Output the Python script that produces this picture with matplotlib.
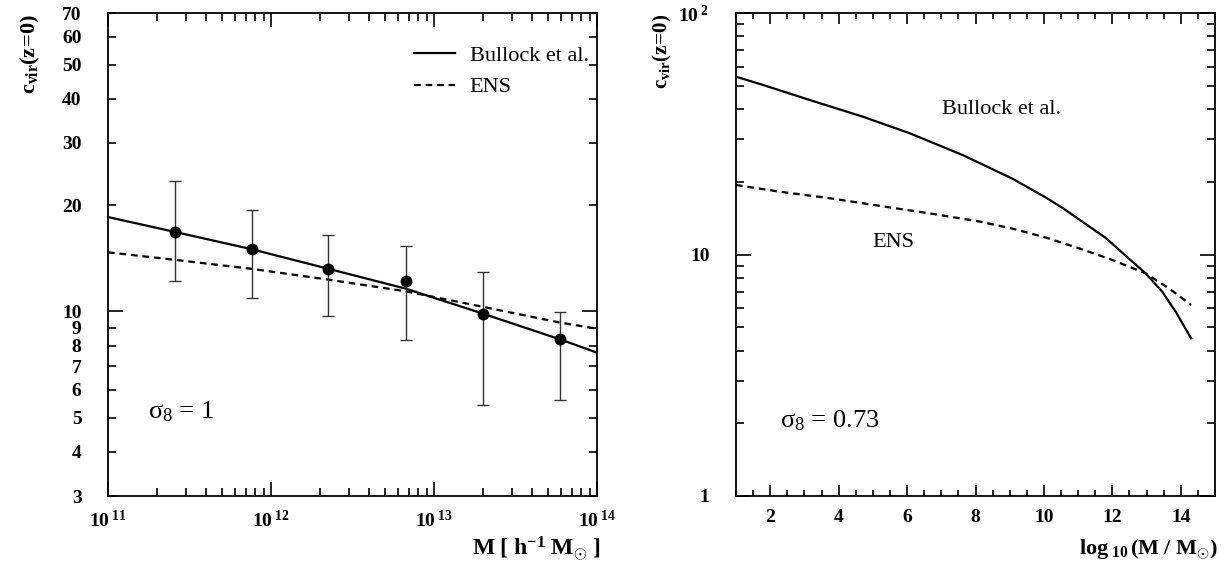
import numpy as np
import matplotlib
matplotlib.use("Agg")
import matplotlib.pyplot as plt
from matplotlib.ticker import FixedLocator, FixedFormatter, NullFormatter, MultipleLocator

plt.rcParams['font.family'] = ['Liberation Serif', 'DejaVu Serif']
plt.rcParams['mathtext.fontset'] = 'custom'
plt.rcParams['mathtext.rm'] = 'Liberation Serif'
plt.rcParams['mathtext.it'] = 'Liberation Serif:italic'
plt.rcParams['mathtext.bf'] = 'Liberation Serif:bold'

# ---- Left panel data (sigma_8 = 1) ----
mass_pts = [2.56e11, 7.6e11, 2.25e12, 6.7e12, 2.0e13, 5.9e13]
c_pts = [16.8, 15.0, 13.2, 12.2, 9.85, 8.34]
c_err_hi = [23.4, 19.4, 16.5, 15.3, 12.97, 9.98]
c_err_lo = [12.2, 10.9, 9.71, 8.28, 5.43, 5.61]

mass_curve = [1e11, 2.56e11, 7.6e11, 2.25e12, 6.7e12, 2.0e13, 5.9e13, 1e14]
bullock_left = [18.5, 16.8, 15.0, 13.2, 11.6, 9.85, 8.34, 7.64]
ens_left = [14.7, 14.0, 13.2, 12.3, 11.4, 10.3, 9.3, 8.93]

# ---- Right panel data (sigma_8 = 0.73) ----
logm_b = [1.0, 1.80, 3.16, 4.71, 6.07, 7.63, 9.08, 10.06, 10.54, 11.81, 12.49,
          12.97, 13.46, 13.75, 13.85, 14.30]
bullock_right = [54.5, 50.3, 43.6, 37.2, 31.8, 25.8, 20.6, 17.2, 15.6, 11.7, 9.6,
                 8.36, 7.01, 6.08, 5.80, 4.50]
logm_e = [1.0, 2.28, 3.74, 5.20, 6.66, 8.11, 9.08, 10.06, 11.03, 12.0, 12.97, 13.65, 14.30]
ens_right = [19.4, 18.2, 17.1, 15.9, 14.8, 13.7, 12.8, 11.75, 10.6, 9.49, 8.36, 7.25, 6.18]

W, H = 1226, 564
fig = plt.figure(figsize=(W / 100, H / 100), dpi=100)

axL = fig.add_axes([108 / W, 1 - 496 / H, 489 / W, 483 / H])
axR = fig.add_axes([736 / W, 1 - 496 / H, 479 / W, 483 / H])

TFS = 14

# ================= Left panel =================
axL.set_xscale('log')
axL.set_yscale('log')
axL.set_xlim(1e11, 1e14)
axL.set_ylim(3, 70)

axL.plot(mass_curve, bullock_left, '-', color='black', lw=1.6, label='Bullock et al.')
axL.plot(mass_curve, ens_left, '--', color='black', lw=1.6, dashes=(3, 2.2), label='ENS')
yerr = [np.array(c_pts) - np.array(c_err_lo), np.array(c_err_hi) - np.array(c_pts)]
axL.errorbar(mass_pts, c_pts, yerr=yerr, fmt='o', color='black', ms=7.5,
             ecolor='#333333', elinewidth=1.0, capsize=4, capthick=1.0)

axL.yaxis.set_major_locator(FixedLocator([10]))
axL.yaxis.set_major_formatter(FixedFormatter(['10']))
ymin = [3, 4, 5, 6, 7, 8, 9, 20, 30, 40, 50, 60, 70]
axL.yaxis.set_minor_locator(FixedLocator(ymin))
axL.yaxis.set_minor_formatter(FixedFormatter([str(v) for v in ymin]))
axL.xaxis.set_major_locator(FixedLocator([1e11, 1e12, 1e13, 1e14]))
axL.xaxis.set_major_formatter(FixedFormatter([r'$\mathbf{10^{\ 11}}$', r'$\mathbf{10^{\ 12}}$',
                                              r'$\mathbf{10^{\ 13}}$', r'$\mathbf{10^{\ 14}}$']))
xminL = [m * 10.0 ** e for e in (11, 12, 13) for m in range(2, 10)]
axL.xaxis.set_minor_locator(FixedLocator(xminL))
axL.xaxis.set_minor_formatter(NullFormatter())

axL.tick_params(axis='both', which='both', direction='in', top=True, right=True, width=1.2)
axL.tick_params(axis='y', which='major', length=11, pad=19)
axL.tick_params(axis='y', which='minor', length=5.5, pad=19)
axL.tick_params(axis='x', which='major', length=10, pad=10)
axL.tick_params(axis='x', which='minor', length=5.5)
for lab in axL.get_xticklabels() + axL.get_yticklabels(which='both'):
    lab.set_fontsize(TFS)
    lab.set_fontweight('bold')

axL.legend(loc='upper left', bbox_to_anchor=(0.585, 0.975), frameon=False, fontsize=16,
           handlelength=1.85, handletextpad=0.65, labelspacing=0.5)
axL.text(1.76e11, 5.19, 'σ$_8$ = 1', fontsize=19, ha='left', va='center')

# ================= Right panel =================
axR.set_yscale('log')
axR.set_xlim(1, 15)
axR.set_ylim(1, 100)
axR.plot(logm_b, bullock_right, '-', color='black', lw=1.6)
axR.plot(logm_e, ens_right, '--', color='black', lw=1.6, dashes=(3, 2.2))

axR.yaxis.set_major_locator(FixedLocator([1, 10, 100]))
axR.yaxis.set_major_formatter(FixedFormatter(['1', '10', r'$\mathbf{10^{\ 2}}$']))
yminR = [m * 10.0 ** e for e in (0, 1) for m in range(2, 10)]
axR.yaxis.set_minor_locator(FixedLocator(yminR))
axR.yaxis.set_minor_formatter(NullFormatter())
axR.xaxis.set_major_locator(MultipleLocator(2))
axR.xaxis.set_minor_locator(MultipleLocator(0.5))

axR.tick_params(axis='both', which='both', direction='in', top=True, right=True, width=1.2)
axR.tick_params(axis='y', which='major', length=11, pad=19)
axR.tick_params(axis='y', which='minor', length=5.5)
axR.tick_params(axis='x', which='major', length=8, pad=9)
axR.tick_params(axis='x', which='minor', length=4.5)
for lab in axR.get_xticklabels() + axR.get_yticklabels():
    lab.set_fontsize(TFS)
    lab.set_fontweight('bold')

axR.text(7.03, 39.7, 'Bullock et al.', fontsize=16, ha='left', va='center')
axR.text(4.99, 11.2, 'ENS', fontsize=16, ha='left', va='center')
axR.text(2.28, 2.06, 'σ$_8$ = 0.73', fontsize=19, ha='left', va='center')

for ax in (axL, axR):
    for s in ax.spines.values():
        s.set_linewidth(1.3)

fig.text(30 / W, 1 - 14 / H, r'$\mathbf{c_{vir}(z\!=\!0)}$', rotation=90, ha='center', va='top', fontsize=16)
fig.text(662 / W, 1 - 14 / H, r'$\mathbf{c_{vir}(z\!=\!0)}$', rotation=90, ha='center', va='top', fontsize=15)
fig.text(600 / W, 1 - 549 / H, r'$\mathbf{M\ [\ h^{-1}\ M_{\odot}\ ]}$', ha='right', va='center', fontsize=17)
fig.text(1218 / W, 1 - 549 / H, r'$\mathbf{log_{\ 10}\,(M\ /\ M_{\odot})}$', ha='right', va='center', fontsize=16)

fig.savefig('out.png', dpi=100)
